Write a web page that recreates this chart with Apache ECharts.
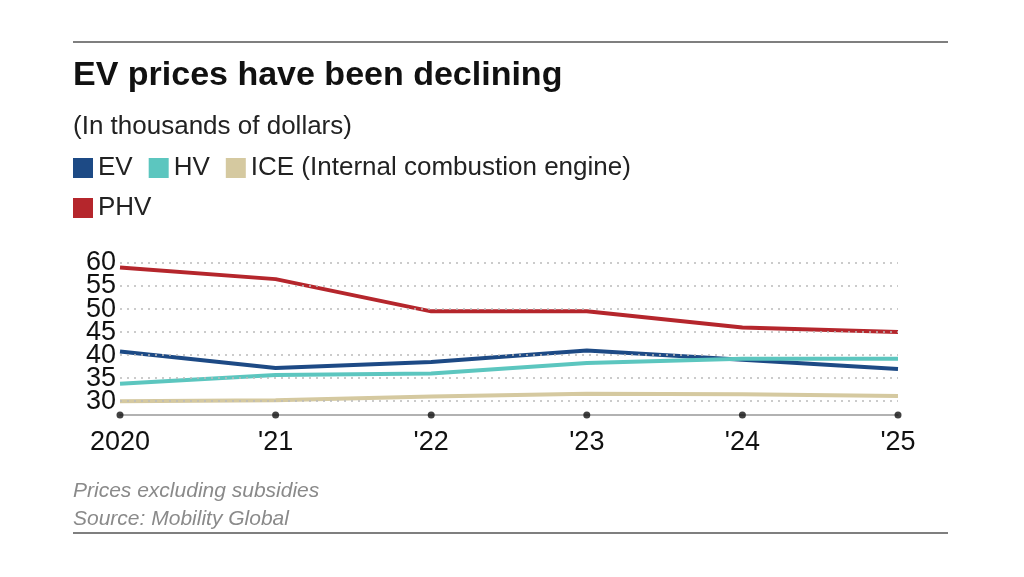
<!DOCTYPE html>
<html>
<head>
<meta charset="utf-8">
<script src="https://cdn.jsdelivr.net/npm/echarts@6/dist/echarts.min.js"></script>
<style>
  * { margin: 0; padding: 0; }
  body { background: #fff; }
</style>
</head>
<body>
<div id="main" style="width:1024px;height:577px"></div>
<script>
  // data
  const years = ["2020", "'21", "'22", "'23", "'24", "'25"];
  const ev = [40.8, 37.2, 38.5, 41.0, 39.0, 37.0];
  const hv = [33.8, 35.7, 36.0, 38.3, 39.2, 39.2];
  const ice = [30.0, 30.2, 31.0, 31.6, 31.5, 31.1];
  const phv = [59.0, 56.5, 49.5, 49.5, 46.0, 45.0];
  const gridTicks = [30, 35, 40, 45, 50, 55, 60];
  const ICE_NAME = "ICE (Internal combustion engine)";

  const font = "'Liberation Sans Narrow', 'Liberation Sans', Arial, sans-serif";
  let myChart = echarts.init(document.getElementById("main"));

  function line(name, data, color) {
    return { name: name, type: "line", data: data, symbol: "none", z: 3,
      lineStyle: { color: color, width: 4 }, itemStyle: { color: color } };
  }

  let option = {
    animation: false,
    textStyle: { fontFamily: "'Liberation Sans', Arial, sans-serif" },
    title: [
      { text: "EV prices have been declining", left: 68, top: 54,
        textStyle: { fontSize: 34, fontWeight: "bold", color: "#111" } },
      { text: "(In thousands of dollars)", left: 68, top: 109,
        textStyle: { fontSize: 26, fontWeight: "normal", color: "#222" } },
      { text: "Prices excluding subsidies\nSource: Mobility Global", left: 68, top: 472,
        textStyle: { fontSize: 21, fontStyle: "italic", fontWeight: "normal", color: "#8a8a8a", lineHeight: 28 } }
    ],
    legend: [
      { data: ["EV", "HV", ICE_NAME], left: 68, top: 150, icon: "rect", itemWidth: 20, itemHeight: 20,
        itemGap: 16, itemStyle: {}, textStyle: { fontSize: 26, color: "#222" } },
      { data: ["PHV"], left: 68, top: 190, icon: "rect", itemWidth: 20, itemHeight: 20,
        textStyle: { fontSize: 26, color: "#222" } }
    ],
    grid: { left: 120, right: 126, top: 263, bottom: 162, containLabel: false },
    xAxis: {
      type: "category", data: years, boundaryGap: false,
      axisLine: { lineStyle: { color: "#999", width: 1.5 } },
      axisTick: { show: false },
      axisLabel: { fontSize: 27, color: "#111", fontFamily: font, margin: 14 }
    },
    yAxis: {
      type: "value", min: 27, max: 60, interval: 1,
      axisLine: { show: false }, axisTick: { show: false }, splitLine: { show: false },
      axisLabel: { fontSize: 27, color: "#111", fontFamily: font, margin: 4,
        formatter: v => (v % 5 === 0 ? String(v) : "") }
    },
    series: [
      { type: "line", data: [], silent: true, z: 1,
        markLine: { symbol: "none", silent: true, label: { show: false },
          lineStyle: { color: "#bbb", type: [2, 5], width: 1.5 },
          data: gridTicks.map(v => ({ yAxis: v })) } },
      line("EV", ev, "#1d4a85"),
      line("HV", hv, "#5cc6bf"),
      line(ICE_NAME, ice, "#d5c9a0"),
      line("PHV", phv, "#b5262c"),
      { type: "scatter", data: years.map(() => 27), symbolSize: 7, silent: true,
        itemStyle: { color: "#111" }, z: 5 }
    ],
    graphic: [
      { type: "line", shape: { x1: 73, y1: 42, x2: 948, y2: 42 }, style: { stroke: "#555", lineWidth: 1.5 } },
      { type: "line", shape: { x1: 73, y1: 533, x2: 948, y2: 533 }, style: { stroke: "#555", lineWidth: 1.5 } }
    ]
  };
  myChart.setOption(option);
</script>
</body>
</html>
